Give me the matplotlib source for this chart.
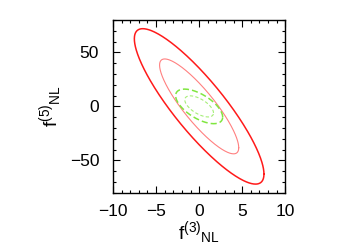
import matplotlib
matplotlib.use("Agg")
import matplotlib.pyplot as plt
from matplotlib.ticker import MultipleLocator
import numpy as np

plt.rcParams['font.family'] = ['Liberation Sans', 'DejaVu Sans']
plt.rcParams['mathtext.fontset'] = 'custom'
plt.rcParams['mathtext.rm'] = 'Liberation Sans'
plt.rcParams['mathtext.it'] = 'Liberation Sans'

# Forecast constraints in the (f3_NL, f5_NL) plane
# each entry: sigma_x, sigma_y, correlation
red_sigma_x = 3.03
red_sigma_y = 29.0
red_rho = -0.87
green_sigma_x = 1.10
green_sigma_y = 6.45
green_rho = -0.62

# delta chi^2 for 68% and 95% (2 dof)
levels = [2.30, 6.17]

x_ticks = [-10, -5, 0, 5, 10]
y_ticks = [-50, 0, 50]


def ellipse(sx, sy, rho, dchi2, n=400):
    cov = np.array([[sx**2, rho * sx * sy], [rho * sx * sy, sy**2]])
    L = np.linalg.cholesky(cov)
    t = np.linspace(0, 2 * np.pi, n)
    circ = np.vstack([np.cos(t), np.sin(t)]) * np.sqrt(dchi2)
    pts = L @ circ
    return pts[0], pts[1]


fig = plt.figure(figsize=(3.5, 2.45), dpi=100)
ax = fig.add_axes([0.323, 0.2135, 0.492, 0.7045])

# red (outer thick at 95%, inner light at 68%)
x, y = ellipse(red_sigma_x, red_sigma_y, red_rho, levels[1])
ax.plot(x, y, color="#ff1a1a", lw=1.1)
x, y = ellipse(red_sigma_x, red_sigma_y, red_rho, levels[0])
ax.plot(x, y, color="#ff8080", lw=0.8)

# green dashed
x, y = ellipse(green_sigma_x, green_sigma_y, green_rho, levels[1])
ax.plot(x, y, color="#80e640", lw=1.1, dashes=(4, 2))
x, y = ellipse(green_sigma_x, green_sigma_y, green_rho, levels[0])
ax.plot(x, y, color="#a6ee78", lw=0.8, dashes=(3, 2))

ax.set_xlim(-10, 10)
ax.set_ylim(-80, 80)
ax.set_xticks(x_ticks)
ax.set_yticks(y_ticks)
ax.xaxis.set_minor_locator(MultipleLocator(1))
ax.yaxis.set_minor_locator(MultipleLocator(10))
ax.tick_params(which="both", direction="in", top=True, right=True,
               labelsize=12.5, pad=8, width=0.8)
ax.tick_params(axis="y", pad=10)
ax.tick_params(which="major", length=5)
ax.tick_params(which="minor", length=2.5)
for s in ax.spines.values():
    s.set_linewidth(1.0)

ax.set_xlabel(r"$\mathregular{f^{(3)}{}_{NL}}$", fontsize=14, labelpad=0)
ax.set_ylabel(r"$\mathregular{f^{(5)}{}_{NL}}$", fontsize=14, labelpad=4)

fig.savefig("out.png", dpi=100)
